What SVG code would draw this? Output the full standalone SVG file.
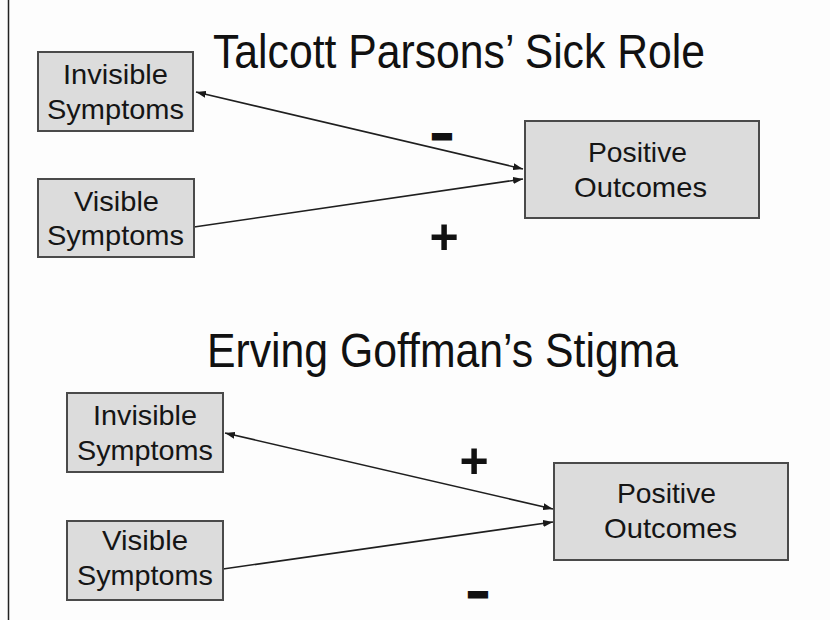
<svg xmlns="http://www.w3.org/2000/svg" width="830" height="620" viewBox="0 0 830 620">
<defs>
<marker id="ah" viewBox="0 0 10 7" refX="10" refY="3.5" markerWidth="10" markerHeight="7" markerUnits="userSpaceOnUse" orient="auto-start-reverse">
<path d="M0,0 L10,3.5 L0,7 z" fill="#1a1a1a"/>
</marker>
<style>
.box{fill:#dcdcdc;stroke:#4a4a4a;stroke-width:2}
.lbl{font-family:"Liberation Sans",Arial,sans-serif;font-size:28px;fill:#151515}
.title{font-family:"Liberation Sans",Arial,sans-serif;font-size:48px;fill:#111}
.sign{font-family:"Liberation Sans",Arial,sans-serif;font-weight:bold;fill:#111;text-anchor:middle}
.minus{font-size:36px;stroke:#111;stroke-width:3;stroke-linejoin:miter}
.edge{stroke:#1f1f1f;stroke-width:1.6;fill:none}
</style>
</defs>
<rect width="830" height="620" fill="#fdfdfd"/>
<line x1="8.5" y1="0" x2="8.5" y2="620" stroke="#222" stroke-width="1.5"/>

<text class="title" x="213" y="68" textLength="492" lengthAdjust="spacingAndGlyphs">Talcott Parsons’ Sick Role</text>
<text class="title" x="207" y="367" textLength="471" lengthAdjust="spacingAndGlyphs">Erving Goffman’s Stigma</text>

<g id="connectors">
<line class="edge" x1="196" y1="92" x2="523" y2="169" marker-start="url(#ah)" marker-end="url(#ah)"/>
<line class="edge" x1="194" y1="227" x2="523" y2="179" marker-end="url(#ah)"/>
<line class="edge" x1="225" y1="433" x2="553" y2="509" marker-start="url(#ah)" marker-end="url(#ah)"/>
<line class="edge" x1="223" y1="569" x2="553" y2="522" marker-end="url(#ah)"/>
</g>

<g id="signs">
<text class="sign minus" x="442" y="145.5" textLength="20" lengthAdjust="spacingAndGlyphs">-</text>
<text class="sign" x="444" y="254" font-size="50">+</text>
<text class="sign" x="474" y="478" font-size="50">+</text>
<text class="sign minus" x="478" y="604" textLength="20" lengthAdjust="spacingAndGlyphs">-</text>
</g>

<g id="n1">
<rect class="box" x="38" y="52" width="155" height="79"/>
<text class="lbl" x="63" y="84" textLength="105" lengthAdjust="spacingAndGlyphs">Invisible</text>
<text class="lbl" x="47" y="119" textLength="137" lengthAdjust="spacingAndGlyphs">Symptoms</text>
</g>
<g id="n2">
<rect class="box" x="38" y="179" width="156" height="78"/>
<text class="lbl" x="74" y="211" textLength="85" lengthAdjust="spacingAndGlyphs">Visible</text>
<text class="lbl" x="47" y="245" textLength="137" lengthAdjust="spacingAndGlyphs">Symptoms</text>
</g>
<g id="n3">
<rect class="box" x="525" y="121" width="234" height="97"/>
<text class="lbl" x="588" y="162" textLength="99" lengthAdjust="spacingAndGlyphs">Positive</text>
<text class="lbl" x="574" y="197" textLength="133" lengthAdjust="spacingAndGlyphs">Outcomes</text>
</g>
<g id="n4">
<rect class="box" x="67" y="393" width="156" height="79"/>
<text class="lbl" x="93" y="425" textLength="104" lengthAdjust="spacingAndGlyphs">Invisible</text>
<text class="lbl" x="77" y="460" textLength="136" lengthAdjust="spacingAndGlyphs">Symptoms</text>
</g>
<g id="n5">
<rect class="box" x="67" y="521" width="156" height="79"/>
<text class="lbl" x="102" y="550" textLength="86" lengthAdjust="spacingAndGlyphs">Visible</text>
<text class="lbl" x="77" y="585" textLength="136" lengthAdjust="spacingAndGlyphs">Symptoms</text>
</g>
<g id="n6">
<rect class="box" x="554" y="463" width="234" height="97"/>
<text class="lbl" x="617" y="503" textLength="99" lengthAdjust="spacingAndGlyphs">Positive</text>
<text class="lbl" x="604" y="538" textLength="133" lengthAdjust="spacingAndGlyphs">Outcomes</text>
</g>
</svg>
